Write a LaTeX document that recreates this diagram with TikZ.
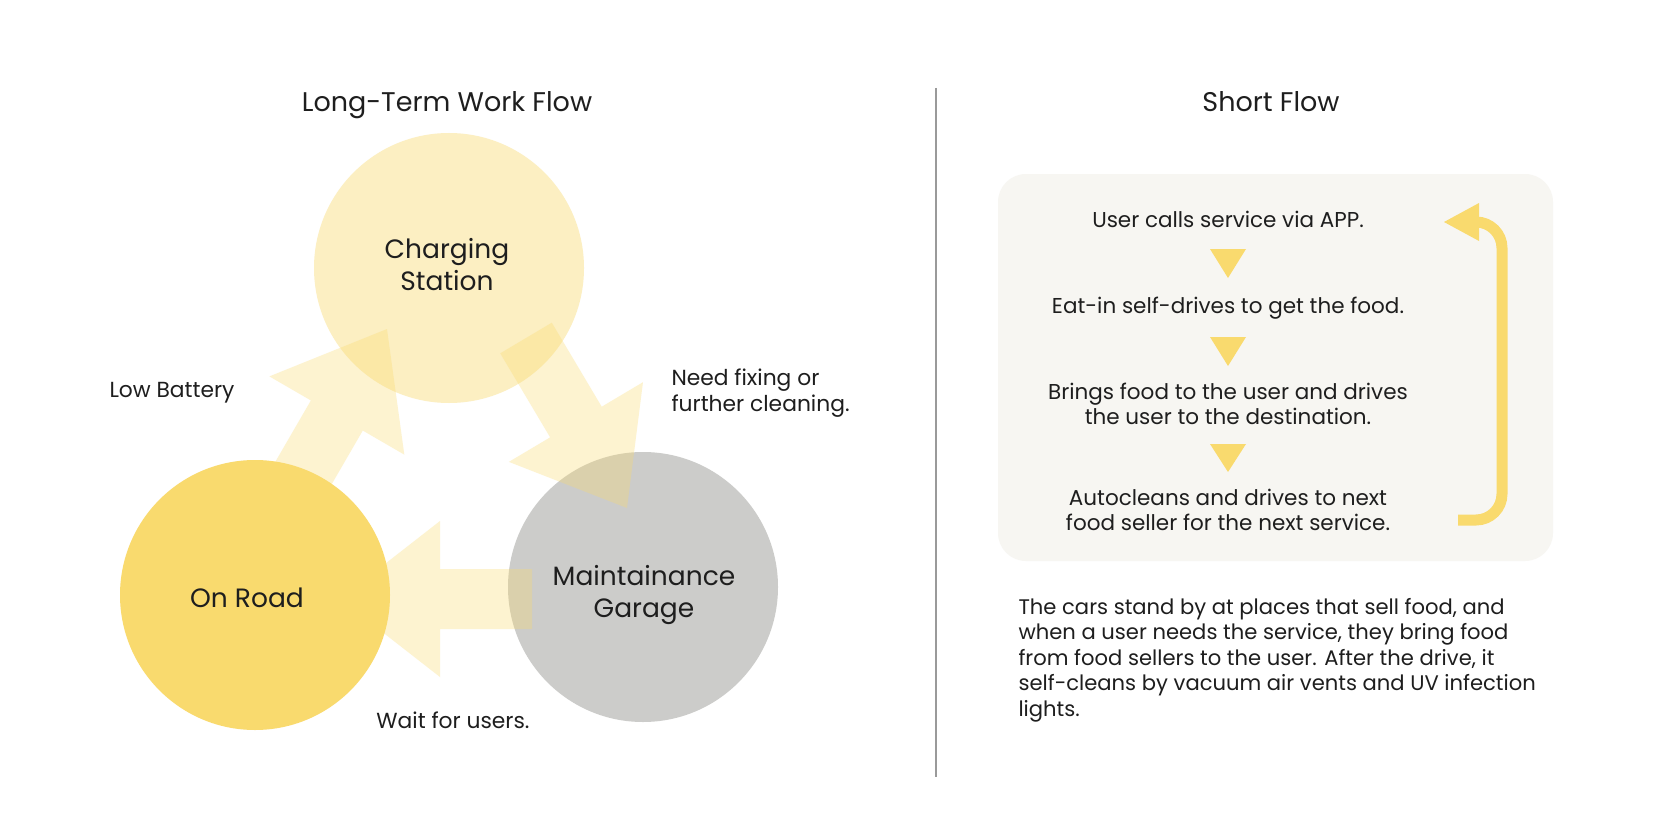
\documentclass[tikz,border=0pt]{standalone}
\usepackage{fontspec}
\setmainfont{Poppins}
\usetikzlibrary{calc}
\definecolor{gold}{HTML}{F9DA6E}
\definecolor{paleyellow}{HTML}{FCEFC2}
\definecolor{garagegray}{HTML}{CCCCCA}
\definecolor{boxbg}{HTML}{F7F6F2}
\definecolor{divider}{HTML}{9A9A9A}
\definecolor{ink}{HTML}{1E1E1E}
\tikzset{
  station/.style={circle, inner sep=0pt, minimum size=270pt},
  stationtext/.style={align=center, text=ink, font=\fontsize{26.5pt}{32pt}\selectfont},
  flowarrow/.style={fill=gold, fill opacity=0.32},
  title/.style={text=ink, font=\fontsize{27pt}{32pt}\selectfont},
  lbl/.style={text=ink, font=\fontsize{21.8pt}{25.5pt}\selectfont, align=left},
  paratext/.style={text=ink, font=\fontsize{21.1pt}{25.6pt}\selectfont, align=left},
  stepline/.style={text=ink, font=\fontsize{21.5pt}{25pt}\selectfont, align=center},
  downtri/.style={fill=gold},
}
\newcommand{\blockarrow}[2]{%
  \coordinate (#1base) at ($(#2)!100pt!(#1)$);
  \fill[flowarrow] ($(#1)!30pt!90:(#2)$) -- ($(#1base)!30pt!-90:(#1)$)
    -- ($(#1base)!78pt!-90:(#1)$) -- (#2) -- ($(#1base)!78pt!90:(#1)$)
    -- ($(#1base)!30pt!90:(#1)$) -- ($(#1)!30pt!-90:(#2)$) -- cycle;}
\begin{document}
\begin{tikzpicture}[x=1pt,y=-1pt]
\path[use as bounding box, fill=white] (0,0) rectangle (1676,840);

% titles and divider
\node[title] (t1) at (447,105) {Long-Term Work Flow};
\node[title] (t2) at (1271,102) {Short Flow};
\coordinate (dvtop) at (936,88);
\coordinate (dvbot) at (936,777);
\draw[divider, line width=1.3pt] (dvtop) -- (dvbot);

% circles
\node[station, fill=paleyellow] (cs) at (449,268) {};
\node[station, fill=gold] (or) at (255,595) {};
\node[station, fill=garagegray] (mg) at (643,587) {};
\node[stationtext] (csl) at (447,265) {Charging\\Station};
\node[stationtext] (orl) at (247,598) {On Road};
\node[stationtext] (mgl) at (644,595) {Maintainance\\Garage};

% block arrows
\coordinate (a1t) at (289,498); \coordinate (a1h) at (387,329);
\coordinate (a2t) at (526,338); \coordinate (a2h) at (627,508);
\coordinate (a3t) at (532,599); \coordinate (a3h) at (340,599);
\blockarrow{a1t}{a1h}
\blockarrow{a2t}{a2h}
\blockarrow{a3t}{a3h}

% labels
\node[lbl, anchor=west] (lb) at (106,393) {Low Battery};
\node[lbl, anchor=west] (nf) at (668,393) {Need fixing or\\further cleaning.};
\node[lbl] (wu) at (453,720) {Wait for users.};

% short flow box
\fill[boxbg, rounded corners=28pt] (998,174) rectangle (1553,561);
\node[stepline] (s1) at (1228,219) {User calls service via APP.};
\node[stepline] (s2) at (1228,308) {Eat-in self-drives to get the food.};
\node[stepline] (s3) at (1228,404) {Brings food to the user and drives\\the user to the destination.};
\node[stepline] (s4) at (1228,510) {Autocleans and drives to next\\food seller for the next service.};
\fill[downtri] (1210,249) -- (1246,249) -- (1228,278) -- cycle;
\fill[downtri] (1210,337) -- (1246,337) -- (1228,366) -- cycle;
\fill[downtri] (1210,444) -- (1246,444) -- (1228,472) -- cycle;

% return arrow
\coordinate (rs) at (1458,520);
\coordinate (rc1) at (1502,520);
\coordinate (rc2) at (1502,222);
\coordinate (re) at (1474,222);
\coordinate (rtip) at (1444,222);
\draw[gold, line width=11pt, rounded corners=26pt] (rs) -- (rc1) -- (rc2) -- (re);
\fill[gold] (rtip) -- ($(re)+(5,-19)$) -- ($(re)+(5,19)$) -- cycle;

% paragraph
\node[paratext, anchor=west] (para) at (1015,660) {The cars stand by at places that sell food, and\\when a user needs the service, they bring food\\from food sellers to the user. After the drive, it\\self-cleans by vacuum air vents and UV infection\\lights.};
\end{tikzpicture}
\end{document}
